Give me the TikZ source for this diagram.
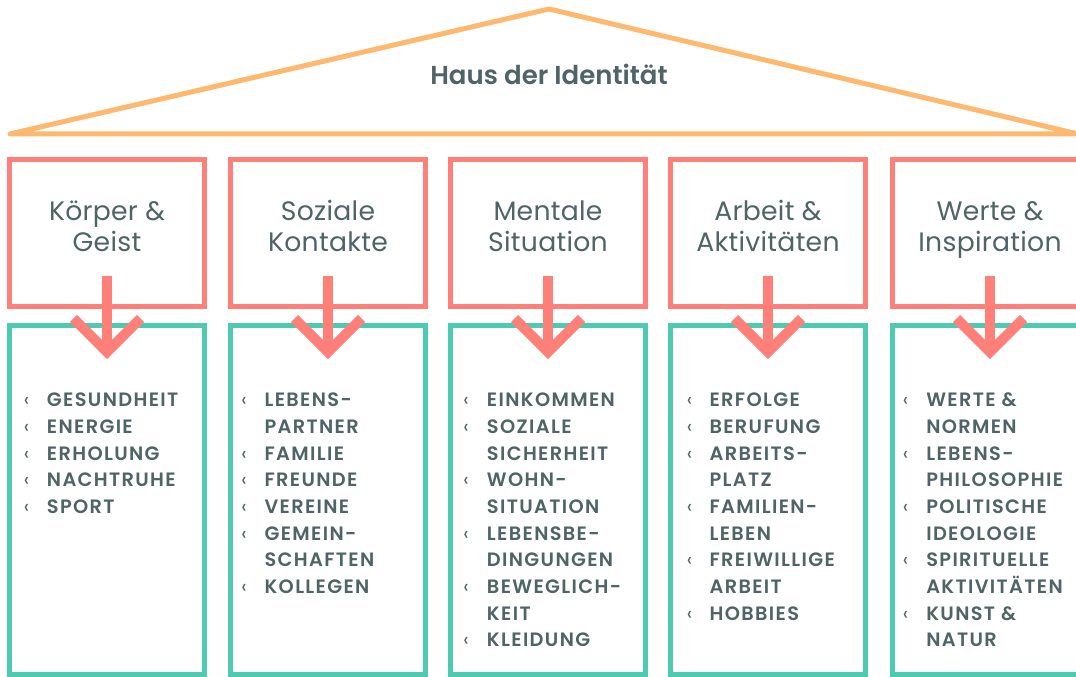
\documentclass[tikz,border=0pt]{standalone}
\usepackage{fontspec}
\setmainfont{Poppins}
\newfontface\semib{Poppins SemiBold}
\newfontface\semibsp{Poppins SemiBold}[LetterSpace=7]
\newfontface\regsp{Poppins}[LetterSpace=1]
\definecolor{cRoof}{HTML}{FEB96E}
\definecolor{cRed}{HTML}{FF7F79}
\definecolor{cTeal}{HTML}{4DCAAF}
\definecolor{cText}{HTML}{4F6467}
\tikzset{
  roofline/.style={draw=cRoof, line width=3.75pt, line join=round},
  redbox/.style={draw=cRed, line width=3.75pt, minimum width=146.25pt, minimum height=110.25pt, inner sep=0pt, outer sep=0pt},
  tealbox/.style={draw=cTeal, line width=3.75pt, minimum width=146.25pt, minimum height=262.1pt, inner sep=0pt, outer sep=0pt},
  shaft/.style={draw=cRed, line width=7.5pt},
  chevron/.style={draw=cRed, line width=7.5pt, line join=miter},
  titletext/.style={text=cText, font=\semib\fontsize{19.5}{24}\selectfont, inner sep=0pt, anchor=base},
  boxtext/.style={text=cText, font=\regsp\fontsize{20}{24}\selectfont, inner sep=0pt, anchor=base},
  listtext/.style={text=cText, font=\semibsp\fontsize{14.5}{17}\selectfont, inner sep=0pt, anchor=base west},
  bulletmark/.style={text=cText, font=\fontsize{14.5}{17}\selectfont, inner sep=0pt, anchor=base},
}
\newcommand\itemcol[4]{%
  \foreach \b/\t [count=\i] in {#4} {%
    \node[listtext] (#1t\i) at (#3, {406.7+26.7*(\i-1)}) {\t};
    \ifnum\b=1 \node[bulletmark] (#1b\i) at (#2, {406.7+26.7*(\i-1)}) {‹};\fi
  }}
\begin{document}
\begin{tikzpicture}[x=0.75pt,y=-0.75pt]
\useasboundingbox (0,0) rectangle (1076,677);
\clip (0,0) rectangle (1076,677);
\fill[white] (0,0) rectangle (1076,677);
% roof
\coordinate (roofL) at (10,134);
\coordinate (roofT) at (549,9);
\coordinate (roofR) at (1078,134);
\draw[roofline] (roofL) -- (roofT) -- (roofR) -- cycle;
\node[titletext] (title) at (549,85) {Haus der Identität};
% boxes
\foreach \c/\cx/\la/\lb in {1/107/Körper \&/Geist, 2/328/Soziale/Kontakte, 3/548/Mentale/Situation, 4/768/Arbeit \&/Aktivitäten, 5/990/Werte \&/Inspiration} {
  \node[redbox] (r\c) at (\cx,233) {};
  \node[tealbox] (g\c) at (\cx,500.25) {};
  \node[boxtext] (r\c a) at (\cx,221) {\la};
  \node[boxtext] (r\c b) at (\cx,251.7) {\lb};
  \coordinate (s\c) at (\cx,276);
  \coordinate (v\c) at (\cx,352);
  \coordinate (cl\c) at (\cx-33.5,318.5);
  \coordinate (cr\c) at (\cx+33.5,318.5);
  \draw[shaft] (s\c) -- (v\c);
  \draw[chevron] (cl\c) -- (v\c) -- (cr\c);
}
% lists
\itemcol{a}{26.5}{46.7}{1/GESUNDHEIT,1/ENERGIE,1/ERHOLUNG,1/NACHTRUHE,1/SPORT}
\itemcol{b}{244}{264.3}{1/LEBENS-,0/PARTNER,1/FAMILIE,1/FREUNDE,1/VEREINE,1/GEMEIN-,0/SCHAFTEN,1/KOLLEGEN}
\itemcol{c}{466}{486.7}{1/EINKOMMEN,1/SOZIALE,0/SICHERHEIT,1/WOHN-,0/SITUATION,1/LEBENSBE-,0/DINGUNGEN,1/BEWEGLICH-,0/KEIT,1/KLEIDUNG}
\itemcol{d}{689.5}{709.3}{1/ERFOLGE,1/BERUFUNG,1/ARBEITS-,0/PLATZ,1/FAMILIEN-,0/LEBEN,1/FREIWILLIGE,0/ARBEIT,1/HOBBIES}
\itemcol{e}{905.5}{926}{1/WERTE \&,0/NORMEN,1/LEBENS-,0/PHILOSOPHIE,1/POLITISCHE,0/IDEOLOGIE,1/SPIRITUELLE,0/AKTIVITÄTEN,1/KUNST \&,0/NATUR}
\end{tikzpicture}
\end{document}
